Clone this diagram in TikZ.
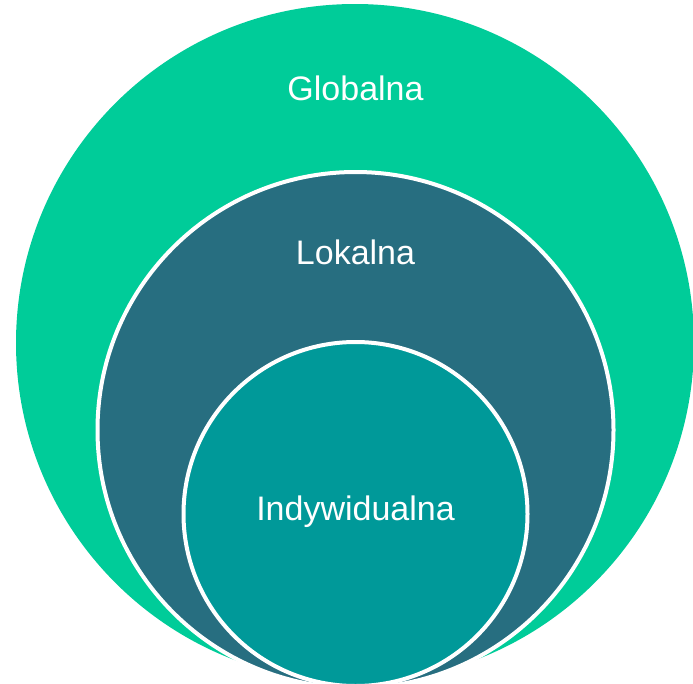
\documentclass[tikz,border=0pt]{standalone}
\usepackage{fontspec}
\setmainfont{Liberation Sans}
\definecolor{cglobal}{RGB}{0,204,153}
\definecolor{clocal}{RGB}{39,110,128}
\definecolor{cindiv}{RGB}{0,153,153}
\begin{document}
\begin{tikzpicture}[x=1pt,y=-1pt,
  ring/.style={circle, inner sep=0pt, outer sep=0pt},
  lbl/.style={text=white, font=\fontsize{34}{40}\selectfont, inner sep=0pt, anchor=base}]
\useasboundingbox (0,0) rectangle (693,683);
\clip (0,0) rectangle (693,683);
\node[ring, fill=cglobal, minimum size=678pt] (global) at (355,343) {};
\node[ring, fill=clocal, draw=white, line width=4pt, minimum size=516pt] (local) at (355.5,430) {};
\node[ring, fill=cindiv, draw=white, line width=4pt, minimum size=344pt] (indiv) at (355.5,514) {};
\node[lbl] (tglobal) at (355.5,100) {Globalna};
\node[lbl] (tlocal) at (355.5,264) {Lokalna};
\node[lbl] (tindiv) at (355.5,520) {Indywidualna};
\end{tikzpicture}
\end{document}
